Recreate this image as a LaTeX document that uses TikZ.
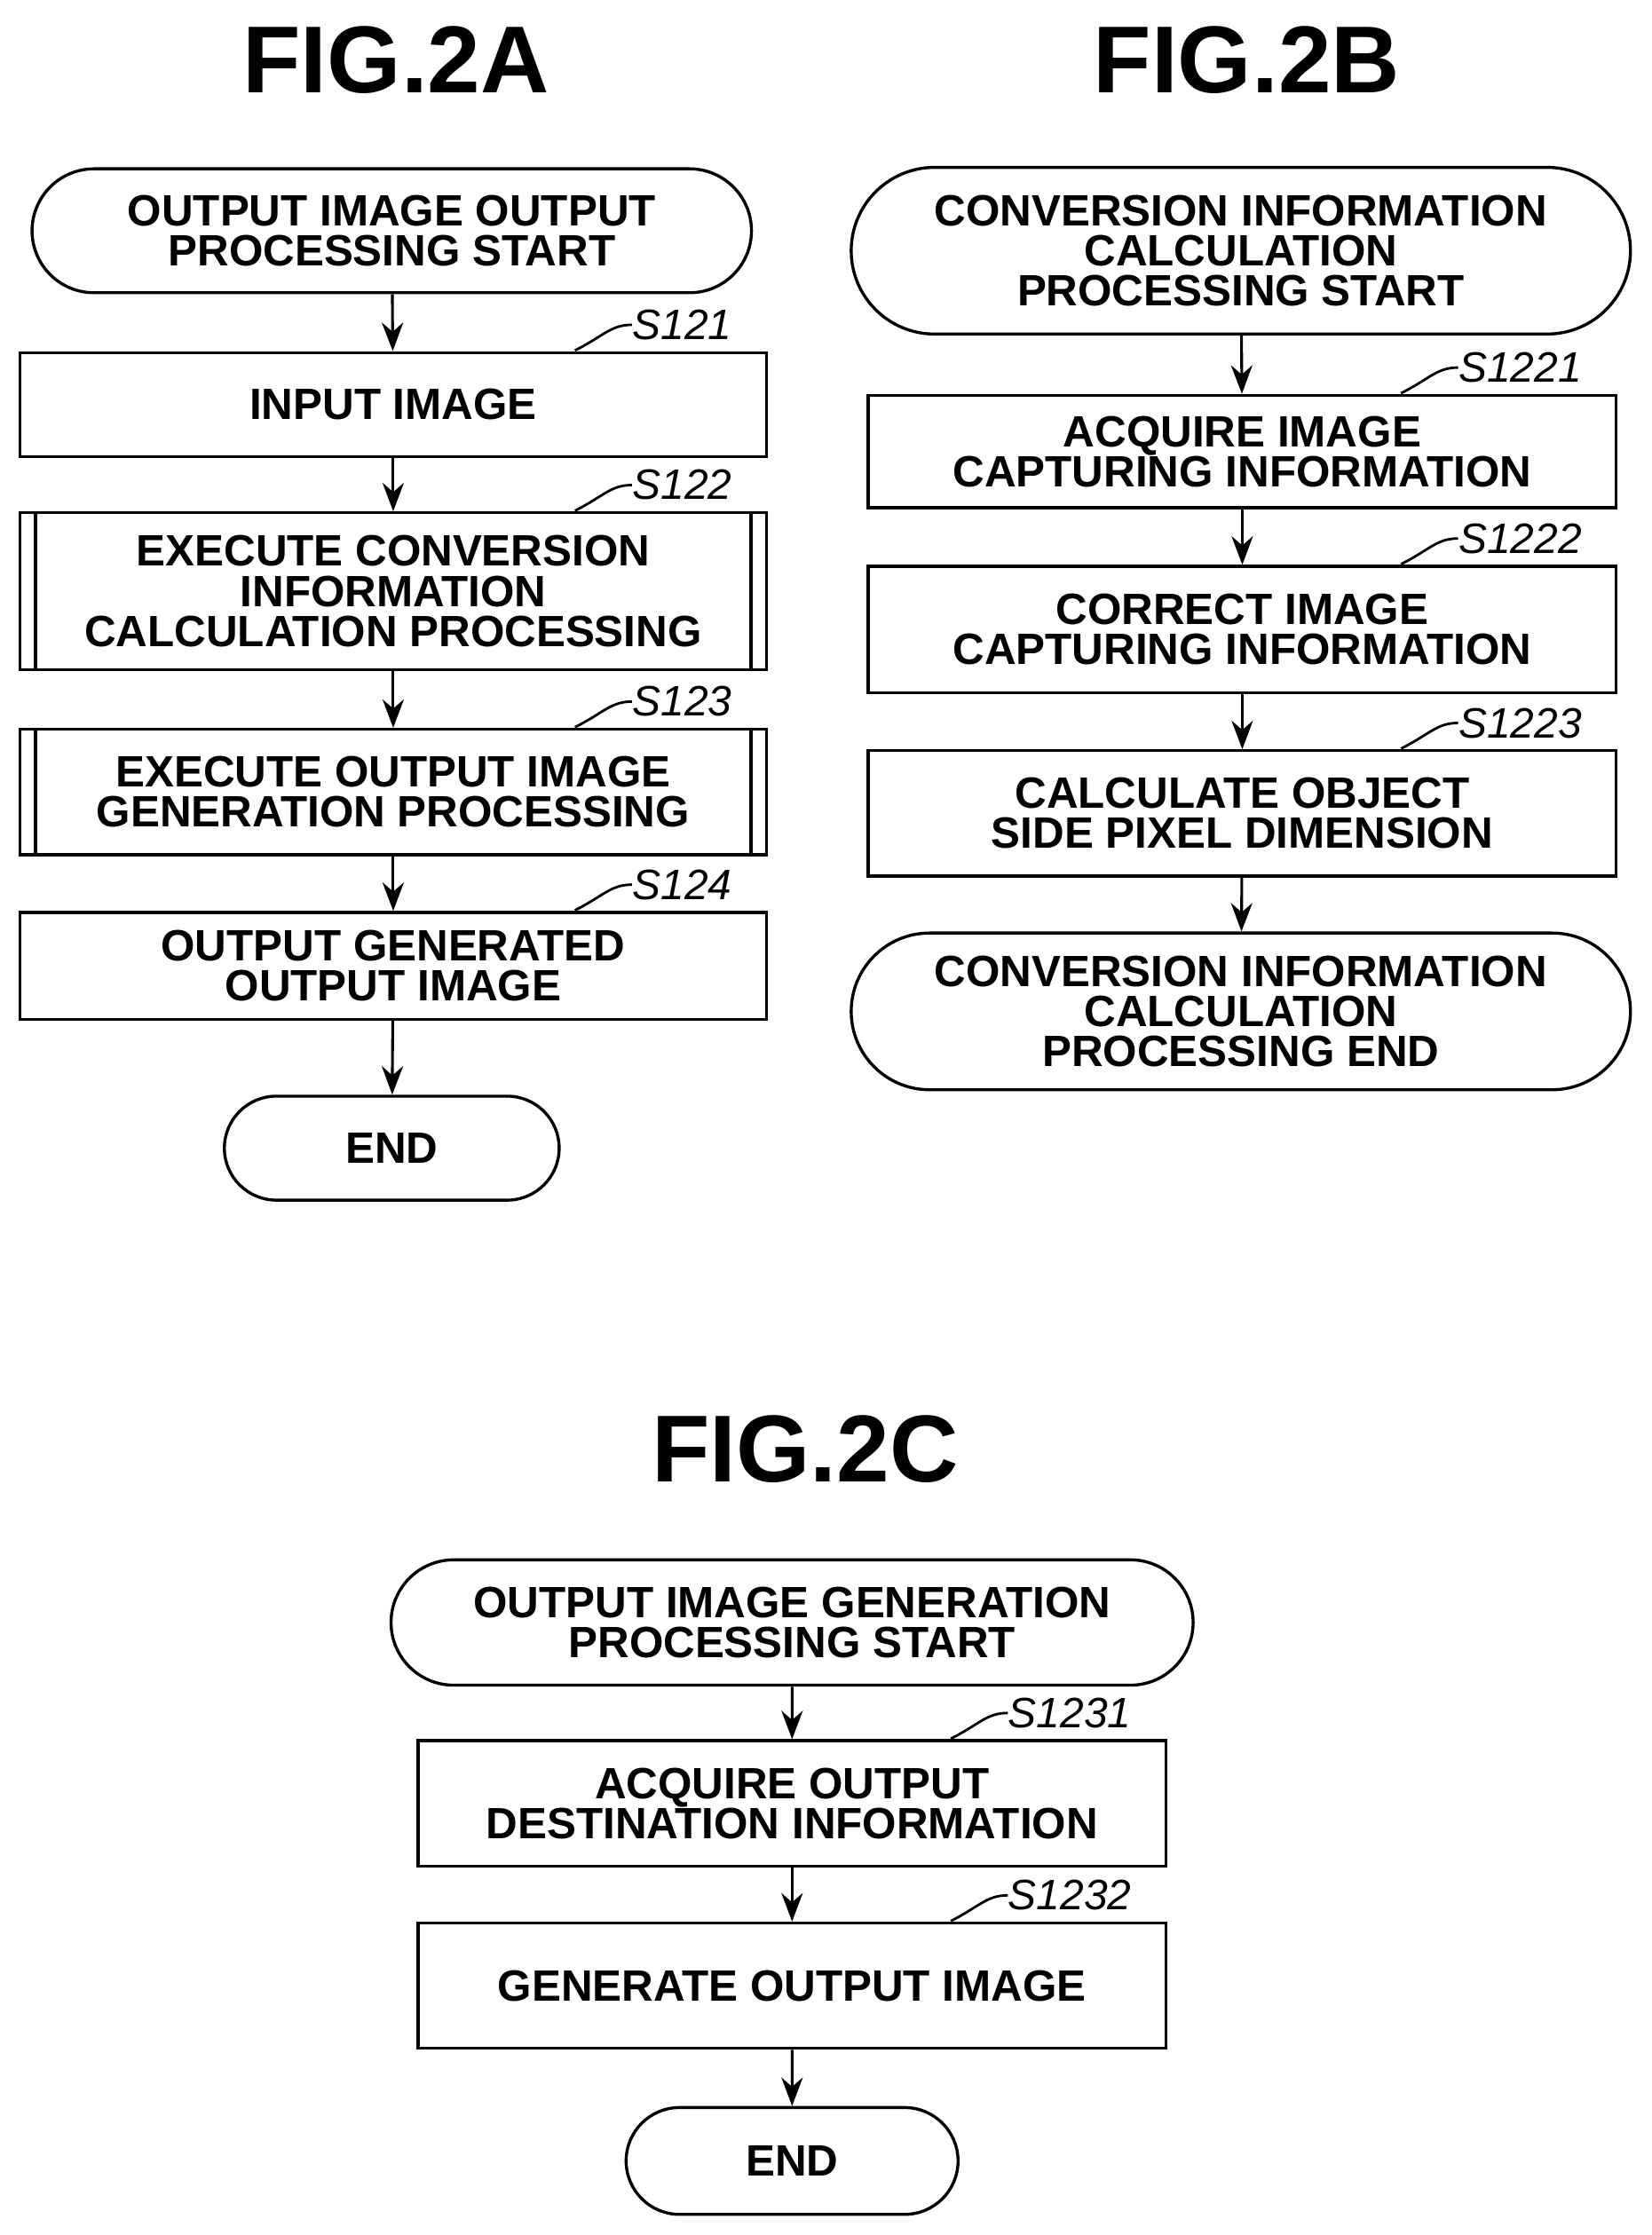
\documentclass[tikz,border=0pt]{standalone}
\usepackage{fontspec}
\setmainfont{Liberation Sans}
\usetikzlibrary{shapes.misc,arrows.meta}
\tikzset{
  every node/.style={font=\bfseries\fontsize{17.5}{16}\selectfont, align=center},
  term/.style={draw, line width=1.2pt, rounded rectangle, inner sep=0pt},
  box/.style={draw, line width=1.2pt, rectangle, inner sep=0pt},
  title/.style={font=\bfseries\fontsize{38}{40}\selectfont},
  lbl/.style={font=\itshape\fontsize{17}{16}\selectfont, anchor=south east, inner sep=0pt},
  arr/.style={line width=1.1pt, -{Stealth[length=4mm, width=3mm]}},
}
\newcommand\steplbl[2]{%
  \node[lbl] (l#1) at ([xshift=-5mm,yshift=1.5mm]#1.north east) {#2};
  \draw[line width=1pt] (l#1.west) .. controls +(-3mm,0) and +(4mm,2mm) .. ++(-8mm,-3.6mm);
}
\newcommand\subproc[1]{%
  \draw[line width=1.2pt] ([xshift=2.4mm]#1.north west) -- ([xshift=2.4mm]#1.south west);
  \draw[line width=1.2pt] ([xshift=-2.4mm]#1.north east) -- ([xshift=-2.4mm]#1.south east);
}
\begin{document}
\begin{tikzpicture}[x=0.2mm, y=-0.2mm]
\useasboundingbox (0,0) rectangle (1159,1569);

% FIG.2A
\node[title] (ta) at (278,42) {FIG.2A};
\node[term, minimum width=101mm, minimum height=17.4mm] (astart) at (275,162) {OUTPUT IMAGE OUTPUT\\PROCESSING START};
\node[box, minimum width=104.8mm, minimum height=14.6mm] (s121) at (276,284) {INPUT IMAGE};
\node[box, minimum width=104.8mm, minimum height=22mm] (s122) at (276,415) {EXECUTE CONVERSION\\INFORMATION\\CALCULATION PROCESSING};
\node[box, minimum width=104.8mm, minimum height=17.6mm] (s123) at (276,556) {EXECUTE OUTPUT IMAGE\\GENERATION PROCESSING};
\node[box, minimum width=104.8mm, minimum height=15mm] (s124) at (276,678) {OUTPUT GENERATED\\OUTPUT IMAGE};
\node[term, minimum width=47mm, minimum height=14.6mm] (aend) at (275,806) {END};
\subproc{s122}
\subproc{s123}
\steplbl{s121}{S121}
\steplbl{s122}{S122}
\steplbl{s123}{S123}
\steplbl{s124}{S124}
\draw[arr] (astart) -- (s121);
\draw[arr] (s121) -- (s122);
\draw[arr] (s122) -- (s123);
\draw[arr] (s123) -- (s124);
\draw[arr] (s124) -- (aend);

% FIG.2B
\node[title] (tb) at (875,42) {FIG.2B};
\node[term, minimum width=109.4mm, minimum height=23.4mm] (bstart) at (871,176) {CONVERSION INFORMATION\\CALCULATION\\PROCESSING START};
\node[box, minimum width=105mm, minimum height=15.8mm] (s1221) at (872,317) {ACQUIRE IMAGE\\CAPTURING INFORMATION};
\node[box, minimum width=105mm, minimum height=17.8mm] (s1222) at (872,442) {CORRECT IMAGE\\CAPTURING INFORMATION};
\node[box, minimum width=105mm, minimum height=17.6mm] (s1223) at (872,571) {CALCULATE OBJECT\\SIDE PIXEL DIMENSION};
\node[term, minimum width=109.4mm, minimum height=22mm] (bend) at (871,710) {CONVERSION INFORMATION\\CALCULATION\\PROCESSING END};
\steplbl{s1221}{S1221}
\steplbl{s1222}{S1222}
\steplbl{s1223}{S1223}
\draw[arr] (bstart) -- (s1221);
\draw[arr] (s1221) -- (s1222);
\draw[arr] (s1222) -- (s1223);
\draw[arr] (s1223) -- (bend);

% FIG.2C
\node[title] (tc) at (565,1017) {FIG.2C};
\node[term, minimum width=112.6mm, minimum height=17.6mm] (cstart) at (556,1139) {OUTPUT IMAGE GENERATION\\PROCESSING START};
\node[box, minimum width=105mm, minimum height=17.6mm] (s1231) at (556,1266) {ACQUIRE OUTPUT\\DESTINATION INFORMATION};
\node[box, minimum width=105mm, minimum height=17.6mm] (s1232) at (556,1394) {GENERATE OUTPUT IMAGE};
\node[term, minimum width=46.6mm, minimum height=15mm] (cend) at (556,1517) {END};
\steplbl{s1231}{S1231}
\steplbl{s1232}{S1232}
\draw[arr] (cstart) -- (s1231);
\draw[arr] (s1231) -- (s1232);
\draw[arr] (s1232) -- (cend);
\end{tikzpicture}
\end{document}
